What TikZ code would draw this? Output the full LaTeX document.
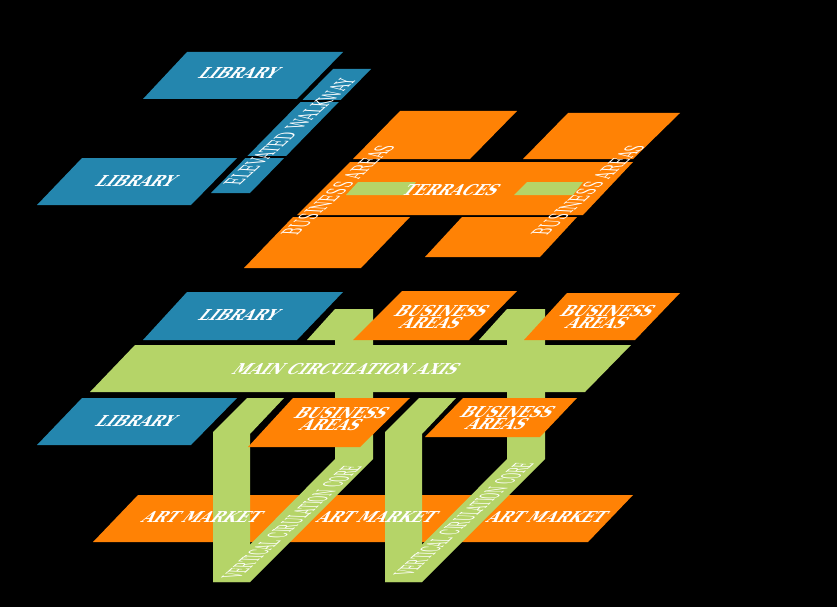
\documentclass[tikz,border=0pt]{standalone}
\usepackage{fontspec}
\setmainfont{DejaVu Serif}
\usepackage{tikz}

\definecolor{plateblue}{HTML}{2486AE}
\definecolor{plateorange}{HTML}{FF8205}
\definecolor{plategreen}{HTML}{B5D468}

\tikzset{
    blueplate/.style = {fill=plateblue},
    orangeplate/.style = {fill=plateorange},
    greenplate/.style = {fill=plategreen},
    gapband/.style = {fill=black},
    flatlabel/.style = {text=white, inner sep=0pt, align=center, font=\bfseries\fontsize{15}{11}\selectfont,
        cm={1,0,0.85,1,(0,0)}, transform shape},
    climblabel/.style = {text=white, inner sep=0pt, font=\fontsize{13}{13}\selectfont,
        cm={0.8,0.72,-1.8,0.1,(0,0)}, transform shape},
    corelabel/.style = {text=white, inner sep=0pt, font=\fontsize{9}{9}\selectfont,
        cm={0.86,0.78,-2.8,0.1,(0,0)}, transform shape}
}

\begin{document}
\begin{tikzpicture}[x=1pt, y=-1pt]
    \fill[black] (0, 0) rectangle (837, 607);
    \useasboundingbox (0, 0) rectangle (837, 607);

    % top level
    \fill[blueplate] (187, 52) -- (343, 52) -- (297, 99) -- (143, 99) -- cycle;
    \fill[blueplate] (82, 158) -- (237, 158) -- (191, 205) -- (37, 205) -- cycle;
    \fill[blueplate] (333, 69) -- (371, 69) -- (250, 193) -- (211, 193) -- cycle;
    \fill[gapband] (295, 100) rectangle (350, 102);
    \fill[gapband] (235, 156) rectangle (295, 158);

    \fill[orangeplate] (400, 111) -- (517, 111) -- (470, 159) -- (353, 159) -- cycle;
    \fill[orangeplate] (568, 113) -- (680, 113) -- (633, 159) -- (523, 159) -- cycle;
    \fill[orangeplate] (350, 162) -- (633, 162) -- (583, 215) -- (297, 215) -- cycle;
    \fill[orangeplate] (293, 217) -- (410, 217) -- (361, 268) -- (244, 268) -- cycle;
    \fill[orangeplate] (462, 217) -- (577, 217) -- (540, 257) -- (425, 257) -- cycle;
    \fill[greenplate] (358, 182) -- (416, 182) -- (405, 195) -- (346, 195) -- cycle;
    \fill[greenplate] (527, 182) -- (583, 182) -- (573, 195) -- (514, 195) -- cycle;

    % lower level
    \fill[orangeplate] (138, 495) -- (633, 495) -- (588, 542) -- (93, 542) -- cycle;
    \foreach \xa in {0, 172} {
        \fill[greenplate] (335 + \xa, 309) -- (373 + \xa, 309) -- (373 + \xa, 459) -- (250 + \xa, 582)
            -- (213 + \xa, 582) -- (335 + \xa, 459) -- (335 + \xa, 340) -- (307 + \xa, 340) -- cycle;
        \fill[greenplate] (247 + \xa, 398) -- (284 + \xa, 398) -- (250 + \xa, 434) -- (250 + \xa, 582)
            -- (213 + \xa, 582) -- (213 + \xa, 432) -- cycle;
    }
    \fill[greenplate] (135, 345) -- (631, 345) -- (585, 392) -- (90, 392) -- cycle;
    \fill[blueplate] (187, 292) -- (343, 292) -- (297, 340) -- (143, 340) -- cycle;
    \fill[blueplate] (82, 398) -- (237, 398) -- (191, 445) -- (37, 445) -- cycle;
    \fill[orangeplate] (402, 291) -- (517, 291) -- (469, 340) -- (353, 340) -- cycle;
    \fill[orangeplate] (567, 293) -- (680, 293) -- (635, 340) -- (524, 340) -- cycle;
    \fill[orangeplate] (293, 398) -- (410, 398) -- (360, 447) -- (248, 447) -- cycle;
    \fill[orangeplate] (463, 398) -- (577, 398) -- (540, 437) -- (425, 437) -- cycle;

    % labels
    \node[flatlabel] (libraryA) at (240, 73) {LIBRARY};
    \node[flatlabel] (libraryB) at (137, 181) {LIBRARY};
    \node[flatlabel] (libraryC) at (240, 315) {LIBRARY};
    \node[flatlabel] (libraryD) at (137, 421) {LIBRARY};
    \node[flatlabel] (terraces) at (452, 190) {TERRACES};
    \node[flatlabel] (mainaxis) at (347, 369) {MAIN CIRCULATION AXIS};
    \node[flatlabel] (artA) at (203, 517) {ART MARKET};
    \node[flatlabel] (artB) at (378, 517) {ART MARKET};
    \node[flatlabel] (artC) at (548, 517) {ART MARKET};
    \node[flatlabel] (areasA) at (437, 317) {BUSINESS\\AREAS};
    \node[flatlabel] (areasB) at (603, 317) {BUSINESS\\AREAS};
    \node[flatlabel] (areasC) at (337, 419) {BUSINESS\\AREAS};
    \node[flatlabel] (areasD) at (503, 418) {BUSINESS\\AREAS};
    \node[climblabel] (walkway) at (290, 132) {ELEVATED WALKWAY};
    \node[climblabel] (climbA) at (338, 190) {BUSINESS AREAS};
    \node[climblabel] (climbB) at (588, 190) {BUSINESS AREAS};
    \node[corelabel] (coreA) at (292, 522) {VERTICAL CIRULATION CORE};
    \node[corelabel] (coreB) at (464, 519) {VERTICAL CIRULATION CORE};
\end{tikzpicture}
\end{document}
